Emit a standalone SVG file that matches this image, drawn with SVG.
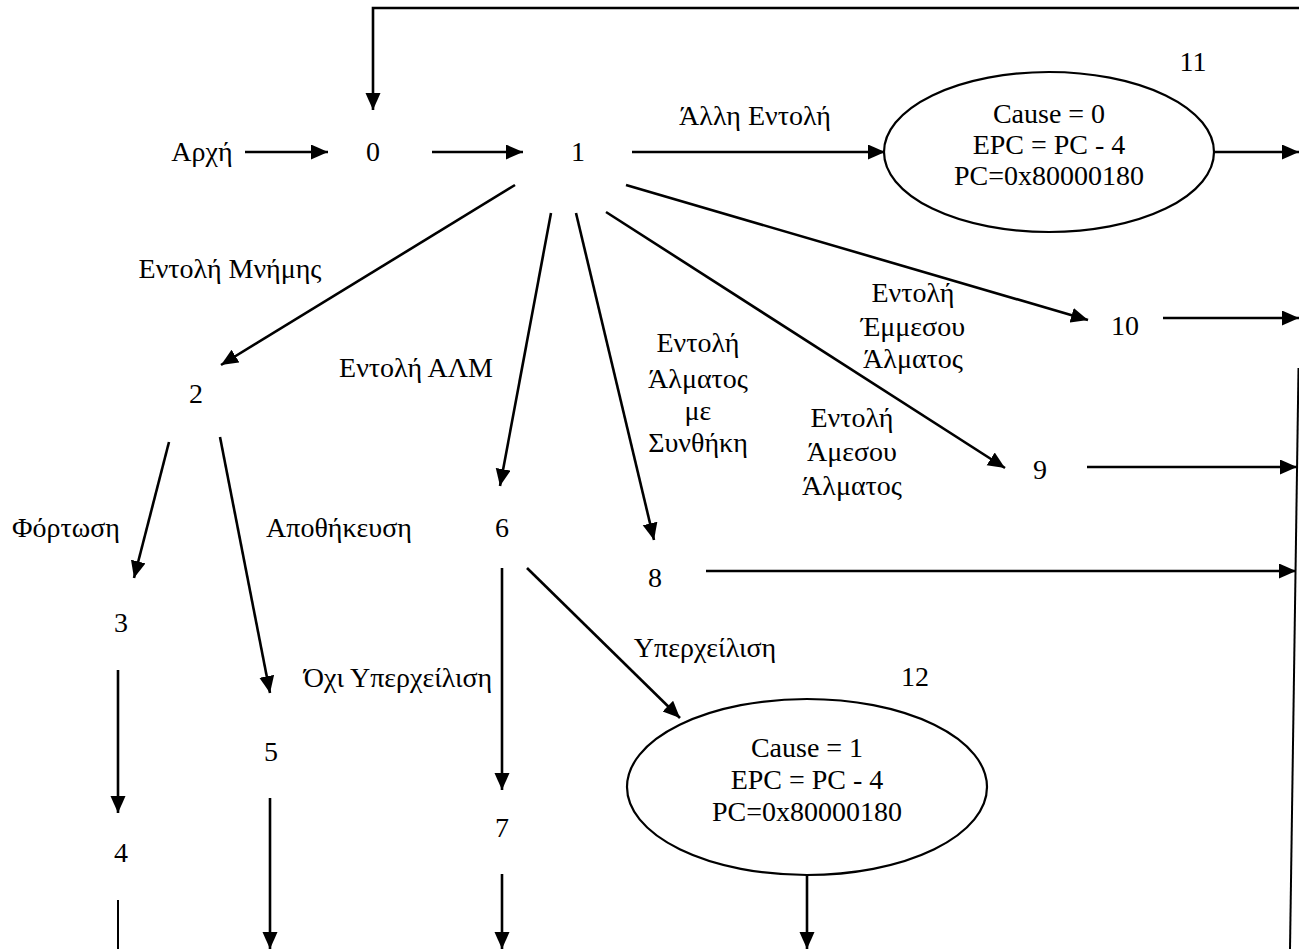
<svg xmlns="http://www.w3.org/2000/svg" width="1299" height="949" viewBox="0 0 1299 949">
<defs>
<marker id="ah" markerUnits="userSpaceOnUse" markerWidth="18" markerHeight="16" refX="17" refY="7.5" orient="auto"><path d="M0,0 L17,7.5 L0,15 z" fill="#000"/></marker>
</defs>
<style>
text{font-size:28px;fill:#000;text-anchor:middle}
.c line,.c polyline{stroke:#000;stroke-width:2.6;fill:none}
.c .a{marker-end:url(#ah)}
ellipse{fill:#fff;stroke:#000;stroke-width:2.2}
</style>
<rect width="1299" height="949" fill="#fff"/>
<g class="c" id="connectors">
<polyline class="a" points="1299,8 373,8 373,110"/>
<line class="a" x1="245" y1="152" x2="328" y2="152"/>
<line class="a" x1="432" y1="152" x2="523" y2="152"/>
<line class="a" x1="632" y1="152" x2="885" y2="152"/>
<line class="a" x1="1214" y1="152" x2="1299" y2="152"/>
<line class="a" x1="515" y1="185" x2="221" y2="365"/>
<line class="a" x1="551" y1="213" x2="500" y2="486"/>
<line class="a" x1="576" y1="213" x2="654" y2="540"/>
<line class="a" x1="606" y1="212" x2="1005" y2="468"/>
<line class="a" x1="626" y1="185" x2="1088" y2="320"/>
<line class="a" x1="1163" y1="318" x2="1299" y2="318"/>
<line class="a" x1="1087" y1="467" x2="1297" y2="467"/>
<line class="a" x1="706" y1="571" x2="1296" y2="571"/>
<line x1="1298.5" y1="368" x2="1290" y2="949" style="stroke-width:2"/>
<line class="a" x1="169" y1="442" x2="134" y2="578"/>
<line class="a" x1="220" y1="437" x2="270" y2="693"/>
<line class="a" x1="118" y1="670" x2="118" y2="813"/>
<line x1="118" y1="900" x2="118" y2="949" style="stroke-width:2"/>
<line class="a" x1="270" y1="798" x2="270" y2="949"/>
<line class="a" x1="502" y1="568" x2="502" y2="790"/>
<line class="a" x1="502" y1="874" x2="502" y2="949"/>
<line class="a" x1="527" y1="568" x2="680" y2="718"/>
<line class="a" x1="807" y1="875" x2="807" y2="949"/>
</g>
<g font-family="'Liberation Serif', 'Times New Roman', 'DejaVu Serif', serif">
<g id="start"><text x="202" y="161">Αρχή</text></g>
<g id="n0"><text x="373" y="161">0</text></g>
<g id="n1"><text x="578" y="161">1</text></g>
<g id="n2"><text x="196" y="403">2</text></g>
<g id="n3"><text x="121" y="632">3</text></g>
<g id="n4"><text x="121" y="862">4</text></g>
<g id="n5"><text x="271" y="761">5</text></g>
<g id="n6"><text x="502" y="537">6</text></g>
<g id="n7"><text x="502" y="837">7</text></g>
<g id="n8"><text x="655" y="587">8</text></g>
<g id="n9"><text x="1040" y="479">9</text></g>
<g id="n10"><text x="1125" y="335">10</text></g>
<g id="n11">
<ellipse cx="1049" cy="152" rx="165" ry="80"/>
<text x="1193" y="71">11</text>
<text x="1049" y="123">Cause = 0</text>
<text x="1049" y="154">EPC = PC - 4</text>
<text x="1049" y="185">PC=0x80000180</text>
</g>
<g id="n12">
<ellipse cx="807" cy="787" rx="180" ry="88"/>
<text x="915" y="686">12</text>
<text x="807" y="757">Cause = 1</text>
<text x="807" y="789">EPC = PC - 4</text>
<text x="807" y="821">PC=0x80000180</text>
</g>
<g id="labels">
<text x="755" y="125">Άλλη Εντολή</text>
<text x="230" y="278">Εντολή Μνήμης</text>
<text x="416" y="377">Εντολή ΑΛΜ</text>
<text x="698" y="352">Εντολή</text>
<text x="698" y="388">Άλματος</text>
<text x="698" y="420">με</text>
<text x="698" y="452">Συνθήκη</text>
<text x="913" y="302">Εντολή</text>
<text x="913" y="336">Έμμεσου</text>
<text x="913" y="368">Άλματος</text>
<text x="852" y="427">Εντολή</text>
<text x="852" y="461">Άμεσου</text>
<text x="852" y="495">Άλματος</text>
<text x="66" y="537">Φόρτωση</text>
<text x="339" y="537">Αποθήκευση</text>
<text x="705" y="657">Υπερχείλιση</text>
<text x="398" y="687">Όχι Υπερχείλιση</text>
</g>
</g>
</svg>
